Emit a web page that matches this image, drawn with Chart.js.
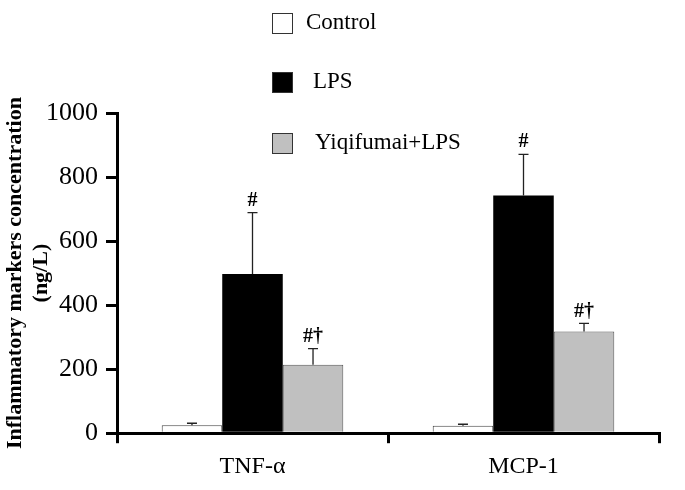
<!DOCTYPE html>
<html>
<head>
<meta charset="utf-8">
<script src="https://cdn.jsdelivr.net/npm/chart.js@4"></script>
<style>
    html, body { margin: 0; padding: 0; background: #fff; }
    #wrap { width: 685px; height: 490px; position: relative; }
</style>
</head>
<body>
<div id="wrap"><canvas id="chart"></canvas></div>
<script>
// Values (ng/L)
const categories = ['TNF-\u03b1', 'MCP-1'];
const groupNames = ['Control', 'LPS', 'Yiqifumai+LPS'];
const controlMean = [25, 23];
const controlErr = [6, 5];
const lpsMean = [497, 742];
const lpsErr = [192, 129];
const yiqiMean = [214, 318];
const yiqiErr = [50, 25];
const lpsMarks = ['#', '#'];
const yiqiMarks = ['#\u2020', '#\u2020'];
const yTicks = [0, 200, 400, 600, 800, 1000];

const serif = '"Liberation Serif", "Times New Roman", serif';

// error bars (upper half only) + significance marks
const errorBarPlugin = {
    id: 'errorBars',
    afterDatasetsDraw(chart) {
        const ctx = chart.ctx;
        const y = chart.scales.y;
        chart.data.datasets.forEach((ds, i) => {
            const meta = chart.getDatasetMeta(i);
            meta.data.forEach((bar, j) => {
                const top = y.getPixelForValue(ds.data[j] + ds.errors[j]);
                ctx.save();
                ctx.strokeStyle = '#222';
                ctx.lineWidth = 1.3;
                ctx.beginPath();
                ctx.moveTo(bar.x, bar.y);
                ctx.lineTo(bar.x, top);
                ctx.moveTo(bar.x - 5, top);
                ctx.lineTo(bar.x + 5, top);
                ctx.stroke();
                if (ds.marks) {
                    ctx.fillStyle = '#000';
                    ctx.font = 'bold 20px ' + serif;
                    ctx.textAlign = 'center';
                    ctx.textBaseline = 'middle';
                    ctx.fillText(ds.marks[j], bar.x, top - 12);
                }
                ctx.restore();
            });
        });
    }
};

// vertical legend at the top
const legendPlugin = {
    id: 'sideLegend',
    afterDraw(chart) {
        const ctx = chart.ctx;
        const rows = [13, 72, 133];
        const textX = [306, 313, 315];
        chart.data.datasets.forEach((ds, i) => {
            ctx.save();
            ctx.fillStyle = ds.backgroundColor;
            ctx.fillRect(272, rows[i], 21, 21);
            ctx.strokeStyle = '#333';
            ctx.lineWidth = 1;
            ctx.strokeRect(272.5, rows[i] + 0.5, 20, 20);
            ctx.fillStyle = '#000';
            ctx.font = '23px ' + serif;
            ctx.textBaseline = 'middle';
            ctx.fillText(ds.label, textX[i], rows[i] + 10);
            ctx.restore();
        });
    }
};

new Chart(document.getElementById('chart'), {
    type: 'bar',
    data: {
        labels: categories,
        datasets: [
            {
                label: groupNames[0],
                data: controlMean,
                errors: controlErr,
                backgroundColor: '#ffffff',
                borderColor: '#444',
                borderWidth: 1
            },
            {
                label: groupNames[1],
                data: lpsMean,
                errors: lpsErr,
                marks: lpsMarks,
                backgroundColor: '#000000',
                borderColor: '#000',
                borderWidth: 0
            },
            {
                label: groupNames[2],
                data: yiqiMean,
                errors: yiqiErr,
                marks: yiqiMarks,
                backgroundColor: '#c0c0c0',
                borderColor: '#555',
                borderWidth: 1
            }
        ]
    },
    options: {
        responsive: true,
        maintainAspectRatio: false,
        animation: false,
        categoryPercentage: 0.67,
        barPercentage: 1.0,
        layout: { padding: { top: 113, right: 26, bottom: 0, left: 0 } },
        plugins: {
            legend: { display: false },
            tooltip: { enabled: false }
        },
        scales: {
            x: {
                grid: {
                    offset: true,
                    drawOnChartArea: false,
                    color: '#000',
                    lineWidth: 3,
                    tickLength: 10
                },
                border: { color: '#000', width: 3 },
                ticks: {
                    color: '#000',
                    font: { family: serif, size: 24 },
                    padding: 9
                }
            },
            y: {
                min: 0,
                max: 1000,
                afterBuildTicks(scale) {
                    scale.ticks = yTicks.map(v => ({ value: v }));
                },
                afterFit(scale) {
                    scale.width = 117;
                },
                grid: {
                    drawOnChartArea: false,
                    color: '#000',
                    lineWidth: 3,
                    tickLength: 11
                },
                border: { color: '#000', width: 3 },
                ticks: {
                    color: '#000',
                    font: { family: serif, size: 26 },
                    padding: 8,
                    callback: v => String(v)
                },
                title: {
                    display: true,
                    text: ['Inflammatory markers concentration', '(ng/L)'],
                    color: '#000',
                    font: { family: serif, size: 22, weight: 'bold', lineHeight: 1.18 },
                    padding: { top: 2, bottom: 0 }
                }
            }
        }
    },
    plugins: [errorBarPlugin, legendPlugin]
});
</script>
</body>
</html>
